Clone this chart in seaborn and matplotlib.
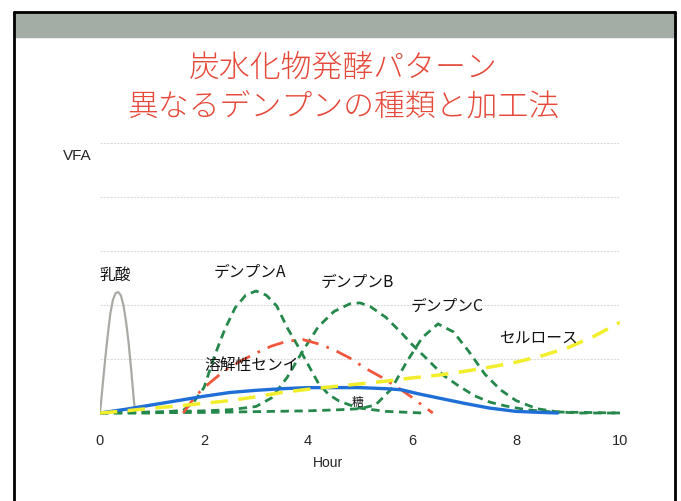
import numpy as np
import pandas as pd
import matplotlib
matplotlib.use('Agg')
import matplotlib.pyplot as plt
from matplotlib.patches import Rectangle
from matplotlib.lines import Line2D
import seaborn as sns

### data ########################################################
lactic_x = [0, 0.05, 0.1, 0.15, 0.2, 0.25, 0.3, 0.35, 0.4, 0.45, 0.5, 0.55, 0.6, 0.65, 0.68]
lactic_y = [0, 0.5, 1.0, 1.45, 1.85, 2.1, 2.22, 2.24, 2.18, 2.0, 1.7, 1.3, 0.8, 0.25, 0]

starch_a_x = [0, 1.0, 1.6, 1.8, 2.0, 2.2, 2.4, 2.6, 2.8, 3.0, 3.2, 3.4, 3.6, 3.8, 4.0, 4.2, 4.4, 4.6, 4.8, 5.0, 5.5, 6.2]
starch_a_y = [0, 0, 0.05, 0.2, 0.47, 1.05, 1.55, 1.95, 2.18, 2.26, 2.18, 1.98, 1.58, 1.25, 0.9, 0.55, 0.34, 0.22, 0.15, 0.09, 0.03, 0.0]

starch_b_x = [0, 1, 2, 2.5, 3.0, 3.3, 3.6, 3.9, 4.2, 4.5, 4.8, 5.0, 5.2, 5.5, 5.8, 6.0, 6.3, 6.6, 6.9, 7.2, 7.5, 7.8, 8.2, 8.7, 10]
starch_b_y = [0, 0.02, 0.04, 0.06, 0.12, 0.28, 0.66, 1.15, 1.6, 1.88, 2.02, 2.04, 1.97, 1.77, 1.48, 1.27, 0.99, 0.7, 0.5, 0.32, 0.2, 0.13, 0.06, 0.02, 0]

starch_c_x = [0, 2, 4, 4.6, 5.0, 5.3, 5.6, 5.9, 6.2, 6.5, 6.8, 7.1, 7.4, 7.7, 8.0, 8.4, 8.8, 9.2, 10]
starch_c_y = [0, 0.01, 0.04, 0.06, 0.08, 0.15, 0.44, 0.95, 1.4, 1.65, 1.5, 1.13, 0.72, 0.43, 0.23, 0.08, 0.02, 0, 0]

fiber_x = [1.6, 1.85, 2.1, 2.4, 2.7, 3.0, 3.3, 3.6, 3.9, 4.2, 4.5, 4.8, 5.1, 5.4, 5.7, 6.0, 6.2, 6.4]
fiber_y = [0, 0.33, 0.55, 0.79, 0.96, 1.11, 1.24, 1.33, 1.36, 1.28, 1.17, 1.02, 0.83, 0.67, 0.49, 0.29, 0.14, 0]

sugar_x = [0, 0.5, 1.0, 1.5, 2.0, 2.5, 3.0, 3.5, 4.0, 4.5, 5.0, 5.5, 5.8, 6.1, 6.5, 7.0, 7.5, 8.0, 8.5, 8.8]
sugar_y = [0, 0.07, 0.15, 0.23, 0.31, 0.38, 0.42, 0.45, 0.47, 0.47, 0.47, 0.45, 0.43, 0.36, 0.28, 0.18, 0.09, 0.03, 0.01, 0]

cellulose_x = [0, 0.5, 1.0, 1.5, 2.0, 2.5, 3.0, 3.5, 4.0, 4.5, 5.0, 5.5, 6.0, 6.5, 7.0, 7.5, 8.0, 8.5, 9.0, 9.5, 10.0]
cellulose_y = [0, 0.04, 0.09, 0.13, 0.18, 0.23, 0.3, 0.38, 0.44, 0.49, 0.54, 0.59, 0.65, 0.7, 0.77, 0.85, 0.94, 1.06, 1.21, 1.42, 1.68]

x_ticks = [0, 2, 4, 6, 8, 10]

labels = ['乳酸', 'デンプンA', 'デンプンB', 'デンプンC', 'セルロース', '溶解性センイ', '糖']
label_x = [0.3, 2.88, 4.94, 6.67, 8.44, 2.92, 4.96]
label_y = [2.55, 2.6, 2.42, 1.98, 1.39, 0.89, 0.19]

title_lines = ['炭水化物発酵パターン', '異なるデンプンの種類と加工法']

### plot ########################################################
sns.set_style('white')
plt.rcParams['font.family'] = ['Noto Sans CJK JP', 'DejaVu Sans']
latin = ['Liberation Sans', 'DejaVu Sans']

W, H = 681, 501
fig = plt.figure(figsize=(W / 100, H / 100), dpi=100)

# slide frame + gray header band
fig.patches.append(Rectangle((14 / W, 1 - 37 / H), (675 - 14) / W, 25 / H,
                             transform=fig.transFigure, color='#a3aca5', zorder=0))
for xs, ys in [([14, 14], [12, 501]), ([675, 675], [12, 501]), ([14, 675], [12, 12])]:
    fig.lines.append(Line2D([v / W for v in xs], [1 - v / H for v in ys],
                            transform=fig.transFigure, color='black', lw=2))

for i, t in enumerate(title_lines):
    fig.text(343 / W, 1 - (68 + 39 * i) / H, t, ha='center', va='center',
             fontsize=22.2, color='#e5493a', fontweight='light')

ax = fig.add_axes([100 / W, 85.3 / H, 520 / W, 272.7 / H])

series = [
    (lactic_x, lactic_y, '#a8aba5', '-', 1.6),
    (starch_a_x, starch_a_y, '#25884a', (0, (3, 2)), 2.0),
    (starch_b_x, starch_b_y, '#25884a', (0, (3, 2)), 2.0),
    (starch_c_x, starch_c_y, '#25884a', (0, (3, 2)), 2.0),
    (fiber_x, fiber_y, '#f1573c', (0, (6, 3, 1, 3)), 2.0),
    (sugar_x, sugar_y, '#1f6fd6', '-', 2.4),
    (cellulose_x, cellulose_y, '#f3ee2c', (0, (5, 3)), 2.5),
]
for xs, ys, col, ls, lw in series:
    sns.lineplot(x=xs, y=ys, ax=ax, color=col, lw=lw, linestyle=ls, sort=False)

for t, lx, ly in zip(labels, label_x, label_y):
    ax.text(lx, ly, t, ha='center', va='center', fontsize=11.3 if t != '糖' else 8.5, color='#111111')

ax.set_xlim(0, 10)
ax.set_ylim(-0.05, 5)
ax.set_xticks(x_ticks)
ax.set_xticklabels([str(v) for v in x_ticks], fontsize=10.5, family=latin)
ax.set_yticks([1, 2, 3, 4, 5])
ax.set_yticklabels([])
ax.tick_params(axis='both', length=0, pad=13)
ax.grid(axis='y', color='#dcdcdc', lw=0.8, linestyle=(0, (2, 1)))
ax.grid(axis='x', visible=False)
for s in ax.spines.values():
    s.set_visible(False)

fig.text(328 / W, 1 - 463 / H, 'Hour', ha='center', va='center', fontsize=10, family=latin)
fig.text(77 / W, 1 - 156 / H, 'VFA', ha='center', va='center', fontsize=11, family=latin)

fig.savefig('out.png', dpi=100)
